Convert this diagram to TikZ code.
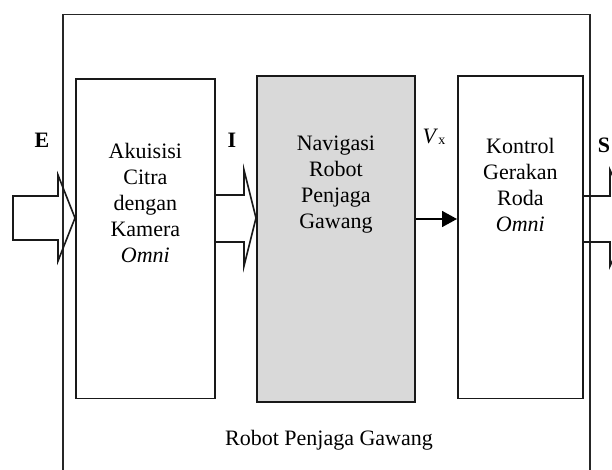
\documentclass[tikz,border=0pt]{standalone}
\usepackage{fontspec}
\setmainfont{Liberation Serif}
\usetikzlibrary{arrows.meta,calc}
\begin{document}
\begin{tikzpicture}[x=1pt,y=-1pt,
  box/.style={draw=black!90,line width=1.8pt,inner sep=0pt,anchor=north west},
  txt/.style={font=\fontsize{22}{26}\selectfont,align=center,inner sep=0pt},
  blk/.style={draw=black!90,line width=1.6pt,line join=miter},
  lbl/.style={font=\fontsize{22}{26}\selectfont\bfseries,inner sep=0pt}]
\useasboundingbox (0,0) rectangle (612,470);
\clip (0,0) rectangle (612,470);
\draw[line width=1.8pt,draw=black!85] (63,14.6) rectangle (590,490);
\node[box,minimum width=139pt,minimum height=319.5pt] (b1) at (75,78) {};
\node[box,fill=black!15,minimum width=158pt,minimum height=325.5pt] (b2) at (256,75.5) {};
\node[box,minimum width=125pt,minimum height=322pt] (b3) at (457,75.5) {};
\coordinate (ma) at (0,218);
\coordinate (mb) at (0,219);
\node[txt] (t1) at (b1.center |- 0,203) {Akuisisi\\Citra\\dengan\\Kamera\\\textit{Omni}};
\node[txt] (t2) at (b2.center |- 0,185) {Navigasi\\Robot\\Penjaga\\Gawang};
\node[txt] (t3) at (b3.center |- 0,185) {Kontrol\\Gerakan\\Roda\\\textit{Omni}};
\node[txt] (cap) at (329,440) {Robot Penjaga Gawang};
% block arrows
\draw[blk] (13,196) -- (58,196) -- (58,175) -- (b1.west |- ma) -- (58,261) -- (58,240) -- (13,240) -- cycle;
\draw[blk] (b1.east |- 0,195) -- (244,195) -- (244,170) -- (b2.west |- ma) -- (244,266) -- (244,242) -- (b1.east |- 0,242);
\draw[blk] (b3.east |- 0,196) -- (610,196) -- (610,170) -- (632,218) -- (610,266) -- (610,242) -- (b3.east |- 0,242);
\draw[line width=1.6pt,-{Triangle[length=15pt,width=16pt]}] (b2.east |- mb) -- (b3.west |- mb);
% labels
\node[lbl] (lE) at (42,140) {E};
\node[lbl] (lI) at (232,140) {I};
\node[txt] (lV) at (434,137) {\textit{V}\raisebox{-1pt}{\fontsize{14}{14}\selectfont x}};
\node[lbl] (lS) at (604,145) {S};
\end{tikzpicture}
\end{document}
